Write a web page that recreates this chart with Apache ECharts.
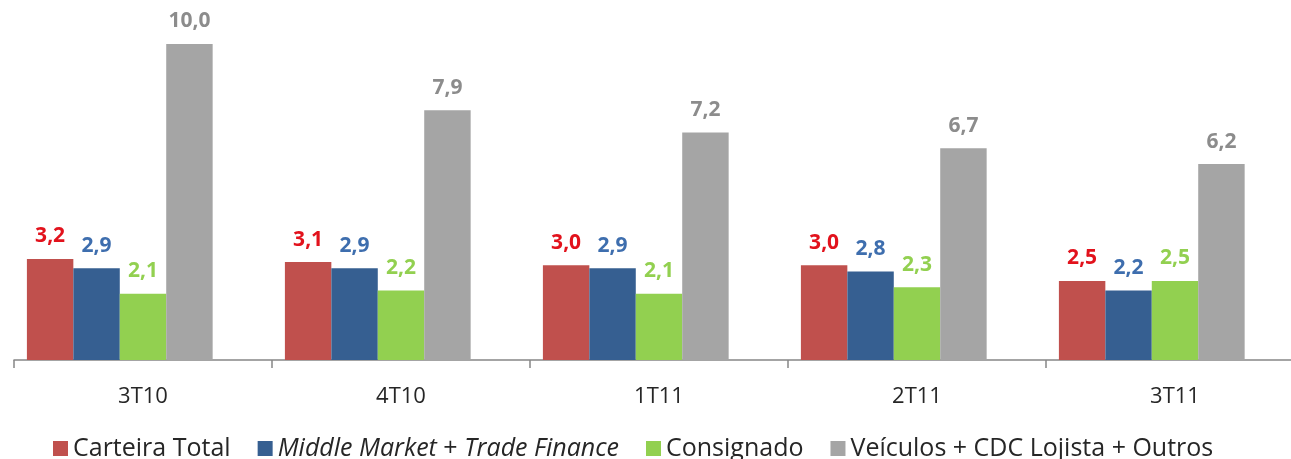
<!DOCTYPE html>
<html>
<head>
<meta charset="utf-8">
<script src="https://cdn.jsdelivr.net/npm/echarts@6/dist/echarts.min.js"></script>
<style>
  html, body { margin: 0; padding: 0; background: #fff; }
  #chart { width: 1291px; height: 459px; }
</style>
</head>
<body>
<div id="chart"></div>
<script>
// trimestres
var categories = ['3T10', '4T10', '1T11', '2T11', '3T11'];

// valores por série (%)
var carteiraTotal = [3.2, 3.1, 3.0, 3.0, 2.5];
var middleMarket  = [2.9, 2.9, 2.9, 2.8, 2.2];
var consignado    = [2.1, 2.2, 2.1, 2.3, 2.5];
var veiculos      = [10.0, 7.9, 7.2, 6.7, 6.2];
// quinta série cortada no original (só aparece o "(" da legenda)
var outraSerie    = [null, null, null, null, null];

var seriesNames = ['Carteira Total', 'Middle Market + Trade Finance', 'Consignado', 'Veículos + CDC Lojista + Outros'];

function fmt(p) {
  return p.value.toFixed(1).replace('.', ',');
}

function barSerie(name, data, color, labelColor) {
  return {
    name: name,
    type: 'bar',
    data: data,
    barGap: 0,
    barCategoryGap: '10%',
    itemStyle: { color: color },
    label: {
      show: true,
      position: 'top',
      distance: 12,
      formatter: fmt,
      color: labelColor,
      fontFamily: 'Open Sans',
      fontWeight: 'bold',
      fontSize: 21
    }
  };
}

var chart = echarts.init(document.getElementById('chart'));
chart.setOption({
  backgroundColor: '#fff',
  animation: false,
  grid: {
    left: 14,
    width: 1290,
    top: 44,
    bottom: 99,
    outerBoundsMode: 'none'
  },
  legend: {
    data: seriesNames,
    left: 48,
    top: 431,
    icon: 'rect',
    itemWidth: 15,
    itemHeight: 15,
    itemGap: 27,
    textStyle: {
      fontFamily: 'Open Sans',
      fontSize: 25,
      color: '#262626',
      rich: {
        i: { fontFamily: 'Open Sans', fontSize: 25, fontStyle: 'italic', color: '#262626' }
      }
    },
    formatter: function (name) {
      if (name === 'Middle Market + Trade Finance') {
        return '{i|Middle Market} + {i|Trade Finance}';
      }
      return name;
    }
  },
  xAxis: {
    type: 'category',
    data: categories,
    axisLine: { lineStyle: { color: '#868686', width: 1.5 } },
    axisTick: { show: true, length: 8, lineStyle: { color: '#868686', width: 1.5 } },
    axisLabel: {
      margin: 26,
      fontFamily: 'Open Sans',
      fontSize: 22,
      color: '#262626'
    }
  },
  yAxis: {
    type: 'value',
    min: 0,
    max: 10,
    show: false
  },
  series: [
    barSerie(seriesNames[0], carteiraTotal, '#c0504d', '#e2121c'),
    barSerie(seriesNames[1], middleMarket, '#365f91', '#3e6eae'),
    barSerie(seriesNames[2], consignado, '#92d050', '#92d050'),
    barSerie(seriesNames[3], veiculos, '#a5a5a5', '#8c8c8c'),
    barSerie('(...)', outraSerie, '#ffffff', '#ffffff')
  ]
});
</script>
</body>
</html>
